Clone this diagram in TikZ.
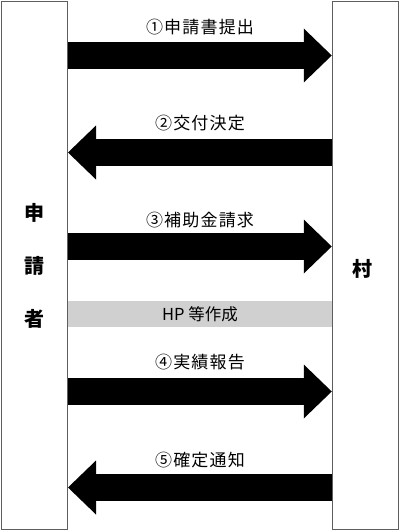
\documentclass[tikz,border=0pt]{standalone}
\usepackage{fontspec}
\setmainfont{Noto Sans CJK JP}
\newfontfamily\stepfont[LetterSpace=7]{Noto Sans CJK JP}
\usetikzlibrary{positioning,arrows.meta}
\definecolor{frame}{HTML}{5E5E5E}
\definecolor{hpgray}{HTML}{D0D0D0}

\begin{document}
\begin{tikzpicture}[x=1pt, y=-1pt,
      party/.style={rectangle, draw=frame, line width=1pt, minimum width=66pt,
      minimum height=528pt, inner sep=0pt},
      who/.style={font=\fontsize{20}{53}\selectfont\bfseries, align=center},
      flow/.style={line width=27pt, -{Triangle[length=28pt, width=54pt, line width=0pt]}},
      steplbl/.style={font=\stepfont\fontsize{17}{17}\selectfont, inner sep=0pt},
      hpbar/.style={rectangle, fill=hpgray, minimum width=264pt, minimum height=26pt,
      inner sep=0pt, font=\fontsize{16.5}{17}\selectfont},
    ]
    \useasboundingbox (0,0) rectangle (400,532);

    \node[party] (applicant) at (34.5, 265.5) {};
    \node[party] (village) at (365.25, 265.5) {};
    \node[who] (applabel) at (34.5, 266) {申\\請\\者};
    \node[who] (vilabel) at (362, 269) {村};

    % rows
    \coordinate (r1) at (0, 55.5);
    \coordinate (r2) at (0, 152.5);
    \coordinate (r3) at (0, 246.5);
    \coordinate (r4) at (0, 391.5);
    \coordinate (r5) at (0, 487.5);

    \draw[flow] (applicant.east |- r1) -- (village.west |- r1);
    \draw[flow] (village.west |- r2) -- (applicant.east |- r2);
    \draw[flow] (applicant.east |- r3) -- (village.west |- r3);
    \draw[flow] (applicant.east |- r4) -- (village.west |- r4);
    \draw[flow] (village.west |- r5) -- (applicant.east |- r5);

    \node[steplbl] (l1) at (200, 27) {①申請書提出};
    \node[steplbl] (l2) at (200, 123) {②交付決定};
    \node[steplbl] (l3) at (200, 220) {③補助金請求};
    \node[steplbl] (l4) at (200, 362) {④実績報告};
    \node[steplbl] (l5) at (200, 460) {⑤確定通知};

    \node[hpbar] (hp) at (200, 314) {HP 等作成};
  \end{tikzpicture}
\end{document}
